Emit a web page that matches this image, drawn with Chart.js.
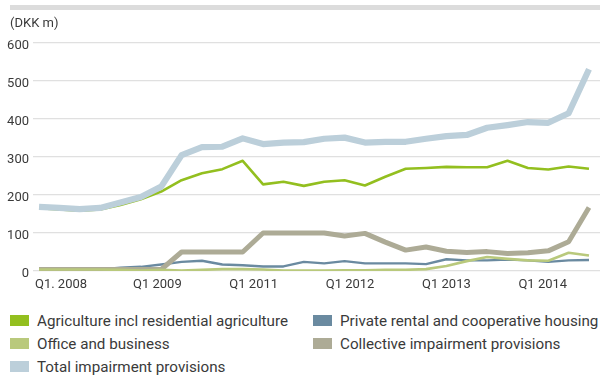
<!DOCTYPE html>
<html>
<head>
<meta charset="utf-8">
<title>Impairment provisions</title>
<script src="https://cdn.jsdelivr.net/npm/chart.js@4.4.1/dist/chart.umd.min.js"></script>
<style>
    body { margin: 0; background: #fff; font-family: Roboto, "Open Sans", sans-serif; color: #3a3a3a; }
    .wrap { position: relative; width: 600px; height: 376px; overflow: hidden; }
    .top-band { position: absolute; left: 10px; top: 5px; width: 590px; height: 5px; background: #dcdcdc; }
    .unit { position: absolute; left: 10px; top: 15px; font-size: 13px; color: #3a3a3a; }
    #provisionsChart { position: absolute; left: 0; top: 0; }
    .legend { position: absolute; left: 10px; top: 309px; display: grid; grid-template-columns: 303px 290px; }
    .legend-item { display: flex; align-items: center; height: 23px; font-size: 15.2px; white-space: nowrap; }
    .legend-box { width: 19px; height: 11px; margin-right: 8px; flex: none; }
</style>
</head>
<body>
<div class="wrap">
    <div class="top-band"></div>
    <canvas id="provisionsChart" width="600" height="300"></canvas>
    <div class="unit">(DKK m)</div>
    <div class="legend" id="legend"></div>
</div>
<script>
// Quarterly impairment provisions, DKK m
const quarters = [
    "Q1 2008", "Q2 2008", "Q3 2008", "Q4 2008",
    "Q1 2009", "Q2 2009", "Q3 2009", "Q4 2009",
    "Q1 2010", "Q2 2010", "Q3 2010", "Q4 2010",
    "Q1 2011", "Q2 2011", "Q3 2011", "Q4 2011",
    "Q1 2012", "Q2 2012", "Q3 2012", "Q4 2012",
    "Q1 2013", "Q2 2013", "Q3 2013", "Q4 2013",
    "Q1 2014", "Q2 2014", "Q3 2014", "Q4 2014"
];
const agriculture = [165, 162, 159, 162, 174, 189, 209, 239, 257, 268, 290, 228, 235, 224, 235, 239, 225, 248, 269, 271, 274, 273, 273, 290, 271, 267, 275, 269];
const privateRental = [4, 4, 4, 4, 9, 11, 17, 24, 27, 17, 15, 12, 12, 24, 20, 26, 20, 20, 20, 18, 31, 28, 28, 30, 28, 24, 28, 29];
const officeBusiness = [4, 4, 4, 4, 3, 1, 3, 1, 3, 5, 5, 4, 1, 1, 1, 2, 2, 3, 3, 5, 13, 26, 37, 32, 28, 27, 48, 41];
const collective = [4, 4, 4, 4, 4, 4, 4, 50, 50, 50, 50, 100, 100, 100, 100, 92, 99, 76, 55, 63, 52, 49, 51, 46, 48, 53, 77, 167];
const totalProvisions = [169, 166, 163, 166, 180, 195, 222, 305, 326, 327, 349, 334, 338, 339, 348, 351, 338, 340, 340, 348, 355, 358, 377, 384, 392, 390, 415, 531];

const xTickLabels = ["Q1. 2008", "Q1 2009", "Q1 2011", "Q1 2012", "Q1 2013", "Q1 2014"];
const yTicks = [0, 100, 200, 300, 400, 500, 600];

// axis labels sit evenly spread under the quarters
const firstTickAt = 1.08;
const tickStep = 4.73;

function toPoints(values) {
    return values.map((v, i) => ({ x: i, y: v }));
}

function makeSeries(label, values, color, width, order) {
    return {
        label: label,
        data: toPoints(values),
        borderColor: color,
        backgroundColor: color,
        borderWidth: width,
        pointRadius: 0,
        pointHoverRadius: 0,
        tension: 0,
        borderJoinStyle: 'round',
        order: order
    };
}

Chart.defaults.font.family = 'Roboto, "Open Sans", sans-serif';
Chart.defaults.color = '#3a3a3a';

const ctx = document.getElementById('provisionsChart').getContext('2d');
const provisionsChart = new Chart(ctx, {
    type: 'line',
    data: {
        datasets: [
            makeSeries('Agriculture incl residential agriculture', agriculture, '#93bf1f', 2.6, 2),
            makeSeries('Private rental and cooperative housing', privateRental, '#6a8aa0', 2.4, 5),
            makeSeries('Office and business', officeBusiness, '#b9c97c', 2.6, 3),
            makeSeries('Collective impairment provisions', collective, '#adab96', 5, 4),
            makeSeries('Total impairment provisions', totalProvisions, '#bccfda', 6.2, 1)
        ]
    },
    options: {
        responsive: false,
        animation: false,
        devicePixelRatio: 1,
        layout: {
            padding: { top: 43, right: 0, bottom: 0, left: 0 }
        },
        plugins: {
            legend: { display: false },
            tooltip: {
                callbacks: {
                    title: items => quarters[items[0].parsed.x]
                }
            }
        },
        scales: {
            x: {
                type: 'linear',
                min: -0.295,
                max: 27.54,
                bounds: 'data',
                grid: { display: false, drawTicks: false },
                border: { display: false },
                afterBuildTicks: axis => {
                    axis.ticks = xTickLabels.map((l, i) => ({ value: firstTickAt + i * tickStep }));
                },
                afterFit: axis => { axis.height = 29; },
                ticks: {
                    autoSkip: false,
                    maxRotation: 0,
                    padding: 6,
                    font: { size: 13 },
                    callback: (value, index) => xTickLabels[index]
                }
            },
            y: {
                min: 0,
                max: 600,
                grid: { color: '#e0e0e0', lineWidth: 1.3, drawTicks: false },
                border: { display: false },
                afterBuildTicks: axis => {
                    axis.ticks = yTicks.map(v => ({ value: v }));
                },
                afterFit: axis => { axis.width = 33; },
                ticks: {
                    padding: 4,
                    labelOffset: 3,
                    font: { size: 13 }
                }
            }
        }
    }
});

// Legend in two columns, built from the datasets
const legend = document.getElementById('legend');
provisionsChart.data.datasets.forEach(ds => {
    const item = document.createElement('div');
    item.className = 'legend-item';
    const box = document.createElement('span');
    box.className = 'legend-box';
    box.style.background = ds.borderColor;
    const text = document.createElement('span');
    text.textContent = ds.label;
    item.appendChild(box);
    item.appendChild(text);
    legend.appendChild(item);
});
</script>
</body>
</html>
